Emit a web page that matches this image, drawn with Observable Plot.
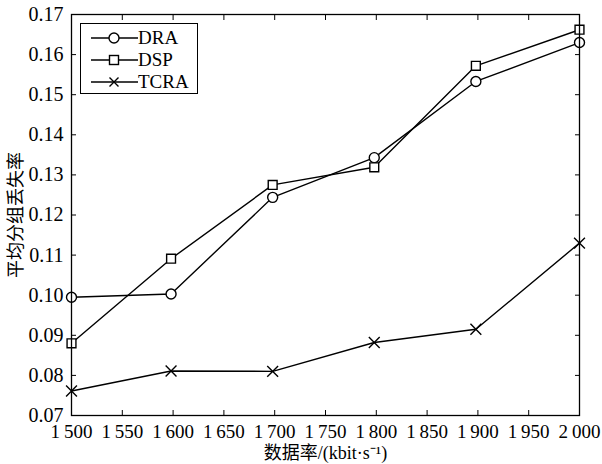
<!DOCTYPE html>
<html><head><meta charset="utf-8">
<script src="https://cdn.jsdelivr.net/npm/d3@7"></script>
<script src="https://cdn.jsdelivr.net/npm/@observablehq/plot@0.6"></script>
<style>
body{margin:0;background:#fff;}
#wrap{position:relative;width:602px;height:464px;}
#wrap svg text{font-family:"Liberation Serif","Noto Sans CJK SC",serif;}
#legend{position:absolute;left:80px;top:23px;width:116px;height:69px;border:1.3px solid #000;background:#fff;font-family:"Liberation Serif",serif;font-size:19px;}
.row{position:absolute;left:0;height:22px;display:flex;align-items:center;}
.row svg{display:block}
</style></head><body>
<div id="wrap"></div>
<script>
const rates = [1500, 1598, 1698, 1798, 1898, 2000];
const dra  = [0.0995, 0.1003, 0.1244, 0.1343, 0.1533, 0.1630];
const dsp  = [0.0880, 0.1091, 0.1275, 0.1319, 0.1572, 0.1662];
const tcra = [0.0761, 0.0811, 0.0810, 0.0882, 0.0915, 0.1130];
const seriesNames = ["DRA", "DSP", "TCRA"];
const seriesSymbols = ["circle", "square", "times"];
const xTicks = [1500,1550,1600,1650,1700,1750,1800,1850,1900,1950,2000];
const yTicks = [0.07,0.08,0.09,0.10,0.11,0.12,0.13,0.14,0.15,0.16,0.17];
const xLabel = "数据率/(kbit·s⁻¹)";
const yLabel = "平均分组丢失率";

const allSeries = [dra, dsp, tcra];
const data = [];
allSeries.forEach((vals, si) => vals.forEach((v, i) => data.push({x: rates[i], y: v, s: seriesNames[si], sym: seriesSymbols[si]})));

const fmtX = n => { const s = String(n); return s.slice(0,1) + "\u2009" + s.slice(1); };

const plot = Plot.plot({
  width: 602, height: 464,
  marginLeft: 71, marginRight: 23, marginTop: 14, marginBottom: 49,
  style: {fontFamily: '"Liberation Serif","Noto Sans CJK SC",serif', fontSize: "19px", color: "#000", background: "#fff"},
  x: {domain: [1500, 2000]},
  y: {domain: [0.07, 0.17]},
  symbol: {domain: seriesSymbols, range: seriesSymbols},
  marks: [
    Plot.axisX({ticks: xTicks, tickFormat: fmtX, tickSize: -5, tickPadding: 14, label: null, fontSize: 19}),
    Plot.axisX({ticks: [], label: xLabel, labelAnchor: "center", labelArrow: "none", labelOffset: 43, fontSize: 18}),
    Plot.axisX({anchor: "top", ticks: xTicks, tickFormat: () => "", tickSize: -5, label: null}),
    Plot.axisY({ticks: yTicks, tickFormat: d3.format(".2f"), tickSize: -5, tickPadding: 13, label: null, fontSize: 20}),
    Plot.axisY({ticks: [], label: yLabel, labelAnchor: "center", labelArrow: "none", labelOffset: 62, fontSize: 18}),
    Plot.axisY({anchor: "right", ticks: yTicks, tickFormat: () => "", tickSize: -5, label: null}),
    Plot.line(data, {x: "x", y: "y", z: "s", stroke: "#000", strokeWidth: 1.4}),
    Plot.dot(data, {x: "x", y: "y", symbol: "sym", r: 5, stroke: "#000", fill: d => d.sym === "times" ? "none" : "#fff", strokeWidth: 1.4}),
    Plot.frame({stroke: "#000", strokeWidth: 1.3})
  ]
});
const wrap = document.getElementById("wrap");
wrap.appendChild(plot);

// legend
const leg = document.createElement("div");
leg.id = "legend";
wrap.appendChild(leg);
seriesNames.forEach((name, i) => {
  const row = document.createElement("div");
  row.className = "row";
  row.style.top = (3 + i * 22) + "px";
  const sym = seriesSymbols[i];
  let shape = "";
  if (sym === "circle") shape = '<circle cx="33" cy="11" r="5" fill="#fff" stroke="#000" stroke-width="1.4"/>';
  if (sym === "square") shape = '<rect x="28.5" y="6.5" width="9" height="9" fill="#fff" stroke="#000" stroke-width="1.4"/>';
  if (sym === "times") shape = '<path d="M28.5,6.5L37.5,15.5M37.5,6.5L28.5,15.5" stroke="#000" stroke-width="1.4"/>';
  row.innerHTML = '<svg width="57" height="22"><line x1="10" x2="57" y1="11" y2="11" stroke="#000" stroke-width="1.4"/>' + shape + '</svg><span>' + name + '</span>';
  leg.appendChild(row);
});
</script>
</body></html>
